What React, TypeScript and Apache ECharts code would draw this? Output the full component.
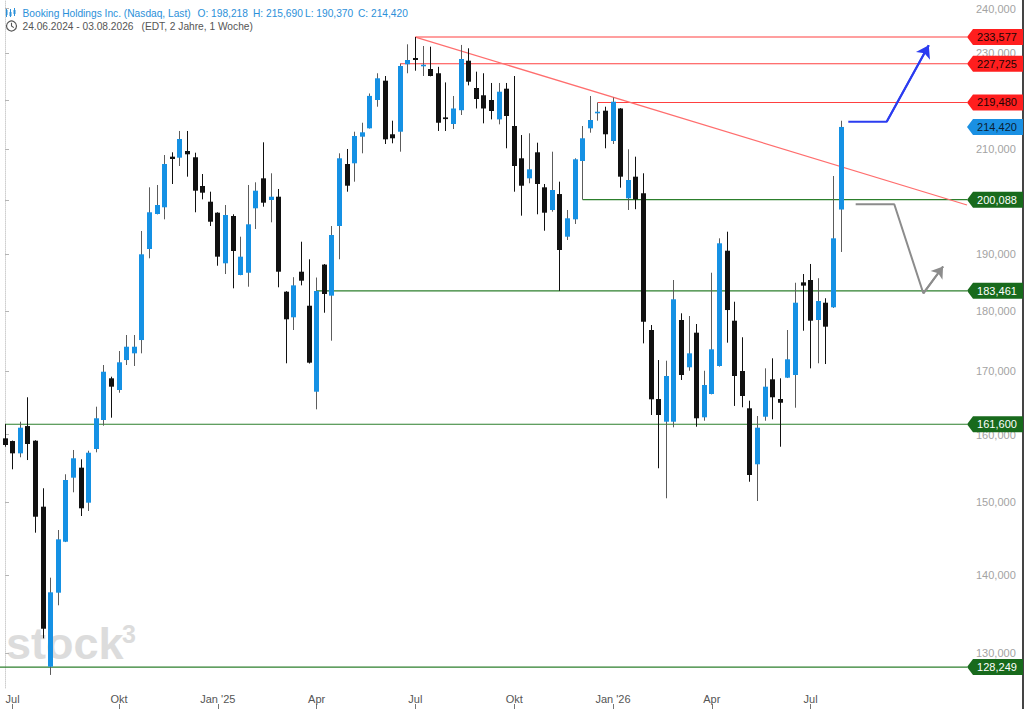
import React, { useEffect, useRef } from 'react';
import * as echarts from 'echarts';

// ---------- data ----------
const START_DATE = '2024-06-24'; // first weekly candle
const TITLE = 'Booking Holdings Inc. (Nasdaq, Last)';
const RANGE_TEXT = '24.06.2024 - 03.08.2026';
const RANGE_INFO = '(EDT, 2 Jahre, 1 Woche)';

const opens = [
  159440, 159030, 157180, 161310, 159080, 149400, 128300, 137660, 144500, 153580,
  155050, 149970, 157830, 162240, 168810, 166940, 171770, 172870, 175070, 190910,
  197380, 198640, 208440, 208240, 209570, 208320, 202710, 199700, 197620, 188330,
  197000, 186250, 186650, 198450, 204190, 200020, 200650, 183310, 178900, 186830,
  180880, 166670, 188100, 182620, 195130, 206990, 207130, 212440, 214140, 219990,
  224070, 212930, 213450, 227600, 228960, 227240, 226570, 225660, 216380, 215020,
  217860, 228370, 222520, 220980, 219990, 215970, 222370, 214610, 208120, 204190,
  209310, 202450, 198130, 201160, 193160, 196380, 207580, 214140, 217430, 217760,
  211570, 218220, 200350, 204510, 201300, 176750, 165520, 161980, 161980, 178440,
  170590, 176300, 162660, 166310, 170800, 190600, 178320, 169990, 164060, 155550,
  162750, 168650, 165520, 168910, 169340, 184950, 185360, 178440, 181400, 180610,
  198218,
];
const highs = [
  161600, 159100, 161980, 165790, 159150, 152040, 139640, 146120, 154080, 157680,
  156290, 157570, 164310, 170960, 169070, 173250, 175910, 175910, 194210, 202450,
  202900, 208770, 209310, 213600, 213600, 209230, 205030, 201610, 197700, 199070,
  197320, 193160, 202900, 203420, 211310, 205170, 202130, 183400, 185860, 192240,
  189050, 185800, 188200, 195130, 209110, 209970, 213450, 215280, 221360, 225660,
  225070, 215700, 227725, 231960, 233577, 231590, 231440, 227040, 223700, 220830,
  231820, 231080, 226000, 225660, 223580, 223580, 223580, 225070, 212780, 213130,
  211230, 203090, 209430, 203540, 198130, 208120, 214610, 220830, 219480, 218590,
  220500, 218300, 209910, 208440, 205170, 177590, 171770, 171660, 185360, 179580,
  179120, 177760, 170030, 186650, 192860, 194080, 181570, 175530, 165250, 162860,
  170420, 172050, 168810, 176750, 184880, 186420, 188210, 185680, 182170, 204640,
  215690,
];
const lows = [
  158170, 154810, 156590, 156180, 145750, 131810, 127300, 136020, 144450, 151460,
  148080, 148790, 157330, 161370, 162600, 166510, 170960, 170800, 172870, 189230,
  197300, 196380, 203090, 206600, 204510, 197700, 200150, 195130, 187900, 186420,
  183900, 186200, 184180, 194580, 198750, 195820, 184080, 171240, 176750, 184420,
  171200, 163900, 179680, 174960, 189050, 201610, 203540, 209110, 214100, 218590,
  210970, 211110, 209430, 225660, 226210, 225070, 225000, 213600, 213600, 214000,
  216870, 223070, 218220, 215160, 215970, 214950, 210110, 201610, 197060, 203230,
  197320, 194260, 197810, 183461, 192550, 195510, 200088, 213250, 215700, 210110,
  210970, 202380, 198130, 198280, 174520, 163020, 154960, 150600, 161120, 168540,
  170030, 161210, 162130, 166250, 170700, 174630, 164430, 164220, 152990, 150210,
  162130, 162350, 158170, 168850, 164150, 176630, 170420, 171240, 171120, 180500,
  190370,
];
const closes = [
  158430, 157180, 161060, 158580, 147980, 133020, 137710, 144830, 153240, 156440,
  149170, 157270, 162510, 169870, 167470, 171400, 173960, 173960, 189950, 197700,
  199070, 206990, 207980, 211980, 208910, 201800, 201420, 195930, 189520, 197190,
  190550, 189520, 195450, 201800, 199510, 200650, 186830, 178560, 184420, 185240,
  171340, 183430, 182910, 193470, 208120, 202760, 212580, 213330, 220850, 224580,
  211910, 212120, 227220, 228520, 228520, 227500, 225070, 215280, 216030, 218220,
  228740, 223850, 220200, 218220, 217700, 221730, 216660, 206600, 202760, 205950,
  203090, 197620, 201930, 190730, 196570, 207920, 212120, 215840, 217550, 212930,
  219630, 204510, 203860, 200150, 178150, 165470, 163020, 169180, 181990, 169340,
  172870, 162510, 167740, 173530, 191950, 180140, 169180, 165990, 153970, 161060,
  167470, 165790, 164930, 171890, 181400, 184370, 178320, 181690, 177310, 192860,
  214420,
];

const xTickDates = ['2024-07-01', '2024-10-07', '2025-01-06', '2025-04-07', '2025-07-07', '2025-10-06', '2026-01-05', '2026-04-06', '2026-07-06'];
const xTickLabels = ['Jul', 'Okt', "Jan '25", 'Apr', 'Jul', 'Okt', "Jan '26", 'Apr', 'Jul'];
const yTickValues = [130000, 140000, 150000, 160000, 170000, 180000, 190000, 200000, 210000, 220000, 230000, 240000];

// horizontal levels (value, first week they are drawn from; null = left edge)
const levelValues = [233577, 227725, 219480, 200088, 183461, 161600, 128249];
const levelStartDates = ['2025-07-07', '2025-06-23', '2025-12-22', '2025-12-08', '2025-04-07', '2024-06-24', null];
const levelKinds = ['res', 'res', 'res', 'sup', 'sup', 'sup', 'sup'];

// price tags on the right axis
const tagValues = [233577, 227725, 219480, 214420, 200088, 183461, 161600, 128249];
const tagKinds = ['res', 'res', 'res', 'last', 'sup', 'sup', 'sup', 'sup'];

// falling trend line: from the July 2025 high to the right edge
const trendStartDate = '2025-07-07';
const trendStartValue = 233577;
const trendEndValue = 199073;

// drawn scenario arrows: [week offset, price]
const bullArrow = [[110.96, 215490], [116.01, 215490], [121.55, 231740]];
const bearArrow = [[111.93, 199206], [117.01, 199206], [120.83, 183031], [123.43, 187760]];

// ---------- style ----------
const FONT = '"Liberation Sans", Arial, Helvetica, sans-serif';
const UP = '#1591e4';
const DOWN = '#111111';
const WICK_UP = '#5c5c5c';
const WICK_DOWN = '#111111';
const RED_LINE = '#ff4040';
const GREEN_LINE = '#2c7f2c';
const HEADER_BLUE = '#2b90d9';
const TAG_STYLE: Record<string, { fill: string; text: string }> = {
  res: { fill: '#ff1e1e', text: '#1a0505' },
  last: { fill: '#1a90e3', text: '#0b1f33' },
  sup: { fill: '#186a1c', text: '#ffffff' },
};

const PX_PER_WEEK = 7.6;
const X_MIN = -0.658;
const X_MAX = X_MIN + 967 / PX_PER_WEEK;
const Y_MIN = 125726;
const Y_MAX = 241949;

const fmt = (v: number) => Number(v).toLocaleString('en-US');
const weekIndex = (d: string) =>
  Math.round((Date.parse(d) - Date.parse(START_DATE)) / (7 * 86400000));

export default function App() {
  const ref = useRef<HTMLDivElement>(null);

  useEffect(() => {
    if (!ref.current) return;
    const chart = echarts.init(ref.current, undefined, { renderer: 'svg' });

    const candleData = opens.map((o, i) => [i, o, closes[i], lows[i], highs[i]]);
    const tickIdx = xTickDates.map(weekIndex);
    const last = opens.length - 1;

    const renderCandle = (params: any, api: any) => {
      const i = api.value(0);
      const o = api.value(1);
      const c = api.value(2);
      const l = api.value(3);
      const h = api.value(4);
      const pO = api.coord([i, o]);
      const pC = api.coord([i, c]);
      const pL = api.coord([i, l]);
      const pH = api.coord([i, h]);
      const up = c >= o;
      const x0 = Math.round(pO[0] - 2.5);
      const top = Math.min(pO[1], pC[1]);
      const hh = Math.max(Math.abs(pO[1] - pC[1]), 1.6);
      return {
        type: 'group',
        children: [
          {
            type: 'line',
            shape: { x1: x0 + 2.5, y1: pH[1], x2: x0 + 2.5, y2: pL[1] },
            style: { stroke: up ? WICK_UP : WICK_DOWN, lineWidth: 1 },
          },
          {
            type: 'rect',
            shape: { x: x0, y: top, width: 5, height: hh },
            style: { fill: up ? UP : DOWN },
          },
        ],
      };
    };

    const levelSeries = levelValues.map((v, k) => ({
      type: 'line',
      name: 'level' + k,
      data: [
        [levelStartDates[k] ? weekIndex(levelStartDates[k] as string) : X_MIN, v],
        [X_MAX, v],
      ],
      symbol: 'none',
      silent: true,
      clip: false,
      z: 2,
      lineStyle: { color: levelKinds[k] === 'res' ? RED_LINE : GREEN_LINE, width: 1.1, type: 'solid' },
      emphasis: { disabled: true },
    }));

    const trendSeries = {
      type: 'line',
      name: 'trend',
      data: [
        [weekIndex(trendStartDate), trendStartValue],
        [X_MAX, trendEndValue],
      ],
      symbol: 'none',
      silent: true,
      clip: false,
      z: 2,
      lineStyle: { color: '#ff6e6e', width: 1.3, type: 'solid' },
      emphasis: { disabled: true },
    };

    const tags = tagValues.map((v, k) => ({
      coord: [X_MAX - 0.0001, v],
      value: v,
      itemStyle: { color: TAG_STYLE[tagKinds[k]].fill },
      label: {
        show: true,
        position: 'inside',
        offset: [2, 0],
        color: TAG_STYLE[tagKinds[k]].text,
        fontSize: 11,
        fontFamily: FONT,
        formatter: () => fmt(v),
      },
    }));

    const arrowSeries = (pts: number[][], color: string, size: number) => ({
      type: 'line',
      data: pts,
      symbol: 'none',
      silent: true,
      clip: false,
      z: 5,
      lineStyle: { color, width: 2 },
      emphasis: { disabled: true },
      markLine: {
        silent: true,
        animation: false,
        label: { show: false },
        symbolSize: size,
        lineStyle: { color, width: 2, type: 'solid' },
        emphasis: { disabled: true },
        data: [
          [
            { coord: pts[pts.length - 2], symbol: 'none' },
            { coord: pts[pts.length - 1], symbol: 'arrow' },
          ],
        ],
      },
    });

    const headerText = (text: string, x: number, y: number, fill: string) => ({
      type: 'text',
      x,
      y,
      silent: true,
      style: { text, font: `10.2px ${FONT}`, fill, textVerticalAlign: 'middle' },
    });

    const option: any = {
      animation: false,
      backgroundColor: '#ffffff',
      textStyle: { fontFamily: FONT },
      grid: { left: 0, right: 57, top: 0, bottom: 21, containLabel: false, outerBoundsMode: 'none' },
      xAxis: [
        {
          type: 'value',
          min: X_MIN,
          max: X_MAX,
          axisLine: { show: false },
          axisTick: { show: false },
          splitLine: { show: false },
          axisLabel: {
            show: true,
            customValues: tickIdx,
            margin: 5,
            color: '#555555',
            fontSize: 11,
            fontFamily: FONT,
            formatter: (v: number) => {
              const k = tickIdx.indexOf(Math.round(v));
              return k >= 0 ? xTickLabels[k] : '';
            },
          },
        },
        {
          type: 'value',
          min: X_MIN,
          max: X_MAX,
          position: 'bottom',
          offset: 16,
          axisLine: { show: false },
          axisTick: { show: true, length: 5, customValues: tickIdx, lineStyle: { color: '#777777' } },
          axisLabel: { show: false },
          splitLine: { show: false },
        },
      ],
      yAxis: {
        type: 'log',
        logBase: 10,
        min: Y_MIN,
        max: Y_MAX,
        position: 'right',
        axisLine: { show: true, lineStyle: { color: '#cfcfcf', type: 'dotted', width: 1 } },
        axisTick: { show: true, length: 4, customValues: yTickValues, lineStyle: { color: '#b5b5b5' } },
        axisLabel: {
          show: true,
          customValues: yTickValues,
          margin: 9,
          color: '#a3a3a3',
          fontSize: 11,
          fontFamily: FONT,
          formatter: (v: number) => fmt(v),
        },
        splitLine: { show: false },
      },
      graphic: [
        // watermark
        { type: 'text', x: 6, y: 643, z: 0, silent: true, style: { text: 'stock', font: `bold 45px ${FONT}`, fill: '#dcdcdc', textVerticalAlign: 'middle' } },
        { type: 'text', x: 122, y: 634, z: 0, silent: true, style: { text: '3', font: `bold 25px ${FONT}`, fill: '#dcdcdc', textVerticalAlign: 'middle' } },
        // candle icon
        { type: 'line', shape: { x1: 6.5, y1: 8, x2: 6.5, y2: 17 }, style: { stroke: HEADER_BLUE, lineWidth: 1 } },
        { type: 'rect', shape: { x: 5.5, y: 10, width: 2, height: 5 }, style: { fill: HEADER_BLUE } },
        { type: 'line', shape: { x1: 10.5, y1: 9, x2: 10.5, y2: 17 }, style: { stroke: HEADER_BLUE, lineWidth: 1 } },
        { type: 'rect', shape: { x: 9.5, y: 12, width: 2, height: 4 }, style: { fill: HEADER_BLUE } },
        { type: 'line', shape: { x1: 14.5, y1: 8, x2: 14.5, y2: 16 }, style: { stroke: HEADER_BLUE, lineWidth: 1 } },
        { type: 'rect', shape: { x: 13.5, y: 10, width: 2, height: 4 }, style: { fill: HEADER_BLUE } },
        // header row 1
        headerText(TITLE, 22.5, 13, HEADER_BLUE),
        headerText('O: ' + fmt(opens[last]), 197.5, 13, HEADER_BLUE),
        headerText('H: ' + fmt(highs[last]), 253, 13, HEADER_BLUE),
        headerText('L: ' + fmt(lows[last]), 305, 13, HEADER_BLUE),
        headerText('C: ' + fmt(closes[last]), 358, 13, HEADER_BLUE),
        // clock icon
        { type: 'circle', shape: { cx: 11.5, cy: 26, r: 5 }, style: { stroke: '#555555', fill: 'none', lineWidth: 1.2 } },
        { type: 'polyline', shape: { points: [[11.5, 22.8], [11.5, 26], [13.8, 27.6]] }, style: { stroke: '#555555', fill: 'none', lineWidth: 1.1 } },
        // header row 2
        headerText(RANGE_TEXT, 22.5, 26, '#555555'),
        headerText(RANGE_INFO, 141.5, 26, '#555555'),
        // right frame edge
        { type: 'rect', shape: { x: 1022, y: 0, width: 2, height: 709 }, style: { fill: '#444444' } },
      ],
      series: [
        ...levelSeries,
        trendSeries,
        {
          type: 'line',
          name: 'tags',
          data: [[X_MIN, 200000]],
          symbol: 'none',
          showSymbol: false,
          silent: true,
          clip: false,
          z: 6,
          lineStyle: { opacity: 0 },
          markPoint: {
            silent: true,
            animation: false,
            symbol: 'path://M0,8L6,0L56,0L56,16L6,16Z',
            symbolSize: [56, 16],
            symbolOffset: [28, 0],
            symbolKeepAspect: false,
            data: tags,
          },
        },
        {
          type: 'custom',
          name: 'candles',
          renderItem: renderCandle,
          data: candleData,
          encode: { x: 0, y: [1, 2, 3, 4] },
          clip: false,
          silent: true,
          z: 3,
        },
        arrowSeries(bullArrow, '#2b3cf0', 12),
        arrowSeries(bearArrow, '#8c8c8c', 11),
      ],
    };

    chart.setOption(option);
    return () => chart.dispose();
  }, []);

  return (
    <div
      ref={ref}
      style={{ position: 'fixed', left: 0, top: 0, width: 1024, height: 709, background: '#fff' }}
    />
  );
}
